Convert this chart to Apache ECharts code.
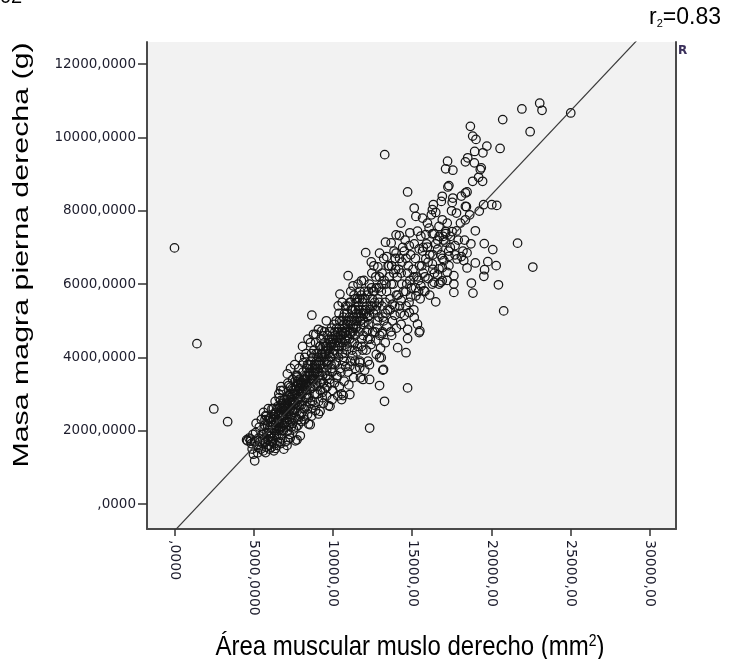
<!DOCTYPE html>
<html><head><meta charset="utf-8">
<script src="https://cdn.jsdelivr.net/npm/echarts@6/dist/echarts.min.js"></script>
<style>html,body{margin:0;padding:0;background:#fff}#c{width:741px;height:659px}</style>
</head><body><div id="c"></div><script>
// ---- tick values / labels ----
const xTickValues = [0, 5000, 10000, 15000, 20000, 25000, 30000];
const xTickLabels = [',0000', '5000,0000', '10000,0000', '15000,0000', '20000,0000', '25000,0000', '30000,0000'];
const yTickValues = [0, 2000, 4000, 6000, 8000, 10000, 12000];
const yTickLabels = [',0000', '2000,0000', '4000,0000', '6000,0000', '8000,0000', '10000,0000', '12000,0000'];

// ---- texts ----
const xTitle = 'Área muscular muslo derecho (mm';
const yTitle = 'Masa magra pierna derecha (g)';
const fitText = '0.83';

// ---- linear fit ----
const fitSlope = 0.4586;
const fitIntercept = -732;

// ---- data: [área muscular muslo (mm2), masa magra pierna (g)] ----
const pointsOutliers = [
 [0,6987],[1417,4376],[2480,2594],[3354,2247],[13263,9530],[12313,2074],[13250,2803],[14706,3169],
 [21644,7116],[22606,6466],[20769,5269],[20438,5981],[16481,5515]
];
const pointsLow = [
 [4550,1750],[4700,1800],[4850,1650],[4950,1900],[4980,1360],[5060,1180],[4800,1720],[4900,1500],[4604,1726],[4813,1773],
 [5120,1950],[5200,1600],[5300,1800],[5350,2100],[5450,1500],[5250,1400],[5400,1700],[5150,2200],[5480,2300],[5050,1700],
 [5550,1650],[5600,1900],[5700,2150],[5750,1406],[5800,2400],[5850,2270],[5900,1750],[5950,2000],[5620,2500],[5780,1550],[5680,1800],[5920,2600],[5980,1600],
 [5520,1900],[5660,2050],[5740,1700],[5830,1950],[5880,2150],[5960,1850],[5570,1750],[5710,2300],[5750,2411],[5958,2320],
 [6050,1850],[6100,2250],[6150,2600],[6200,1700],[6271,1452],[6300,2000],[6350,2800],[6400,2350],[6450,1900],[6120,1550],[6230,2450],[6380,2150],[6480,2650],[6020,2100],[6330,1650],
 [6060,2350],[6140,1950],[6180,2150],[6260,2300],[6310,1850],[6370,2450],[6420,2050],[6460,2250],[6090,1700],[6240,2600],[6375,1518],
 [6550,2000],[6583,3006],[6600,2900],[6646,2639],[6688,2822],[6700,1800],[6750,2450],[6800,2200],[6850,3100],[6896,1498],[6950,2700],[6520,2300],[6620,1700],[6780,2000],[6880,2550],[6980,2350],[6720,3200],[6688,3096],[6792,2731],
 [6530,2600],[6590,2200],[6640,2400],[6710,2100],[6760,2750],[6820,2400],[6870,2000],[6920,2850],[6960,2200],[6570,2450],[6800,2600],[6660,2050],
 [7050,2100],[7100,2850],[7150,3300],[7208,3233],[7250,1900],[7300,2600],[7350,3000],[7400,2350],[7450,3400],[7080,2450],[7180,1750],[7280,2800],[7380,2100],[7480,2700],[7120,3550],[7420,3150],[7320,3700],[7313,3187],
 [7020,2600],[7090,2250],[7140,2700],[7210,2450],[7260,3000],[7330,2400],[7370,2750],[7430,2550],[7470,3000],[7160,2950],[7230,2150],[7400,2850],
 [7550,2500],[7600,3100],[7625,1726],[7700,3500],[7729,3461],[7750,2900],[7800,2300],[7850,3700],[7900,2700],[7938,1863],[7950,3250],[7580,3800],[7680,2100],[7820,3300],[7880,4000],[7980,2450],[7650,2750],[7731,3507],[7731,1754],
 [7520,2800],[7570,3000],[7630,2600],[7690,3200],[7740,2700],[7790,3100],[7830,2850],[7870,3400],[7920,3000],[7970,3300],[7610,3350],[7760,3350],
 [5300,1550],[5600,1450],[6000,1500],[6450,1600],[6700,1650],[7000,1700],[7300,1800],[6150,1800],[6600,1900],[7150,2000],[7500,2050],[7800,2150],[8000,2250],[7100,1600],
 [6900,2150],[7250,2300],[7600,2350],[7900,2400],[7450,2200],[6600,2250],
 [6700,2500],[6900,2650],[7100,2750],[7300,2900],[7500,3100],[7700,3000],[7900,3150],[7600,2750],[7800,2900],[7000,2550],[7200,2650],[7400,2450],[6800,2350],[6600,2100],[6400,2500]
];
const pointsMid = [
 [8050,3000],[8100,3600],[8144,3855],[8200,2600],[8250,3300],[8300,4100],[8350,2900],[8400,3500],[8458,2184],[8480,3800],[8080,4300],[8150,2400],[8280,3100],[8420,4500],[8330,3700],[8220,4000],[8563,2165],
 [8020,3300],[8070,2800],[8130,3100],[8180,3400],[8240,2900],[8290,3500],[8340,3200],[8390,3800],[8440,3300],[8490,3600],[8110,3400],[8360,3000],
 [8550,3200],[8600,3900],[8667,5151],[8700,2800],[8769,4631],[8750,3600],[8800,4200],[8850,3000],[8919,4631],[8950,3800],[8580,4400],[8680,3400],[8900,4400],[8980,3300],[8620,2600],
 [8520,3500],[8570,3800],[8630,3300],[8680,3700],[8730,4000],[8780,3400],[8830,3800],[8880,3600],[8930,4100],[8970,3900],[8650,4100],[8810,3200],
 [9083,2458],[9081,4768],[9188,4302],[9100,3500],[9150,3900],[9200,3100],[9250,4500],[9300,3700],[9294,4721],[9350,4100],[9394,4585],[9400,3300],[9450,3900],[9050,4100],[9480,4700],[9320,2900],[9188,2529],
 [9020,3700],[9070,4000],[9120,3600],[9170,4300],[9220,3800],[9270,4100],[9330,3500],[9380,4300],[9430,4000],[9470,4400],[9230,3400],
 [9500,4083],[9550,3500],[9600,4300],[9650,3800],[9708,2685],[9750,4500],[9800,3300],[9850,4000],[9900,4800],[9950,3600],[9580,5000],[9700,4100],[9880,4300],[9980,3100],[9620,3200],[9813,2666],
 [9520,4300],[9570,3900],[9630,4600],[9680,4200],[9730,3900],[9780,4700],[9830,4400],[9880,3800],[9930,4500],[9970,4100],
 [10050,4200],[10100,3800],[10150,4600],[10200,5000],[10250,3500],[10331,5407],[10300,4300],[10350,4000],[10400,4800],[10438,5727],[10450,3700],[10080,4900],[10220,4450],[10380,5200],[10480,4400],
 [10020,4500],[10070,4100],[10120,4700],[10180,4300],[10230,4800],[10280,4100],[10320,4700],[10370,4400],[10420,5000],[10470,4600],
 [10544,2850],[10542,3006],[10646,2959],[10550,4300],[10600,4700],[10650,5100],[10700,3900],[10750,4500],[10800,5400],[10850,4200],[10900,4900],[10956,6229],[10950,3600],[10580,5500],[10720,4800],[10880,5200],
 [10520,4700],[10570,5000],[10620,4400],[10680,4900],[10730,5200],[10780,4700],[10830,5000],[10870,4600],[10930,5400],[10980,5000],
 [11063,5499],[11063,3762],[11050,4500],[11100,4900],[11150,5300],[11200,4200],[11269,5954],[11250,4700],[11300,5100],[11350,4400],[11400,5600],[11450,4800],[11120,5800],[11380,3900],[11480,5200],[11063,2987],
 [11030,5100],[11080,4700],[11130,5500],[11180,5000],[11230,5300],[11280,4800],[11330,5700],[11370,5000],[11420,5300],[11470,5500],
 [11500,5000],[11550,4300],[11600,5400],[11688,3855],[11688,3718],[11650,4700],[11700,5800],[11750,5200],[11794,6091],[11800,4500],[11850,5500],[11900,4900],[11950,6100],[11580,6000],[11880,4200],[11731,3444],[11894,3398],
 [11530,5600],[11580,5100],[11630,5300],[11680,5600],[11730,5000],[11780,5700],[11830,5300],[11880,5600],[11930,5200],[11980,5800],
 [8200,2300],[8400,2450],[8650,2400],[8900,2550],[8050,2500],
 [8000,2700],[8300,2650],[8550,2750],[8800,2700],[9100,2800],[9400,2750],[9600,2950],[9950,2850],[10300,2950],[8450,2900],[9000,3000],[9350,3050],
 [8300,3250],[8600,3150],[8900,3250],[9200,3300],[9500,3150],[9800,3400],[10100,3300],[10400,3200],[10700,3350],[11000,3250],[11300,3450],[9650,3500],[10250,3450],
 [9300,3600],[9600,3650],[9900,3700],[10200,3850],[10500,3600],[10800,3750],[11100,3900],[11400,3700],[11700,3900],[10650,4000],[11250,4050],
 [10600,4100],[10900,4300],[11200,4400],[11500,4150],[11800,4300],
 [11900,4600],
 [8100,3250],[8300,3400],[8500,3550],[8700,3500],[8900,3700],[9100,3850],[9300,4000],[9500,4150],[9700,4250],[9900,4350],[8000,3050],[8200,3150],[8400,3250],[8600,3400],[8800,3550],[9000,3600],
 [10100,4400],[10300,4550],[10500,4500],[10700,4650],[10900,4750],[11100,4650],[11300,4900],[11500,4850],[11700,5100],[11900,5050],[10800,4450],[11400,4600]
];
const pointsHigh = [
 [12063,6858],[12206,3899],[12419,6604],[12313,3398],[12050,5300],[12100,4700],[12150,5700],[12200,5100],[12300,6000],[12350,4500],[12400,5400],[12450,6300],[12250,4900],
 [12030,5600],[12130,5400],[12230,5800],[12330,5300],[12430,5900],[12480,5600],
 [12731,4083],[12938,3233],[12831,6467],[12938,6842],[12938,3992],[12550,5200],[12600,5800],[12650,4700],[12700,6200],[12750,5400],[12800,5000],[12900,5900],[12950,4600],[12580,6500],
 [12530,5800],[12630,5500],[12730,5900],[12830,5600],[12930,6200],
 [13044,3992],[13188,3672],[13144,3653],[13313,7143],[13394,6749],[13050,5800],[13100,6300],[13150,5100],[13200,6700],[13300,5500],[13350,6000],[13450,5300],[13480,6500],[13120,4700],
 [13080,6000],[13230,6100],[13380,5800],[13530,6500],[13680,6000],[13830,6300],[13930,6700],
 [13669,7124],[13979,7343],[13981,6842],[13550,6200],[13600,5600],[13700,6500],[13750,5000],[13800,6000],[13850,6900],[13900,5400],[13950,6400],[13650,4700],
 [14081,4266],[14188,7324],[14292,7663],[14050,6200],[14100,5700],[14200,6700],[14250,5200],[14300,6300],[14400,7000],[14450,5800],[14350,6600],
 [14150,6400],[14350,6000],[14500,6900],[14700,6300],[14850,6100],
 [14606,6704],[14606,5406],[14606,4129],[14706,4768],[14706,4513],[14708,8513],[14813,7050],[14813,5225],[14550,7200],[14650,6000],[14750,6500],[14900,6800],[14950,5900],[14850,7400],
 [15125,7097],[15125,8075],[15125,5088],[15229,7846],[15231,5680],[15333,7442],[15331,4905],[15438,6960],[15481,4721],[15438,4677],[15050,6400],[15300,6200],[15400,5800],
 [15200,6700],[15450,6500],[15650,6900],[15900,7100],
 [15544,7305],[15544,5954],[15750,5817],[15856,7352],[15856,6686],[15956,7006],[15958,7663],[15600,6500],[15700,7000],[15800,6200],[15650,7800],
 [16063,7526],[16271,7371],[16271,8028],[16208,7891],[16333,8165],[16375,7379],[16481,7954],[16481,7097],[16269,6549],[16269,6001],[16100,6800],[16400,6300],[16375,6047],
 [16688,6412],[16688,6001],[16688,7571],[16896,7754],[16894,6091],[16896,8395],[16833,8256],[16600,7200],[16800,6800],[16950,7300],[16794,6047],
 [17000,6640],[17106,7379],[17106,7143],[17104,9143],[17229,9352],[17208,7663],[17206,6321],[17250,8650],[17313,8686],[17400,7000],[17480,8000],[17104,7434],
 [17313,6758],[17313,6503],[17625,6229],[17625,6001],[17625,5773],[17831,6686],[18250,6640],
 [17521,7434],[17521,8228],[17563,8348],[17563,9105],[17792,7937],[18042,7663],[18354,7754],[18354,8119],[18418,8111],[18458,8513],[18354,8486],[18354,9334],[18500,9444],[18625,7891],[17700,6800],[17900,7200],[18100,8400],[18200,6900],
 [18456,6850],[18981,6576],[18456,6439],[18731,6028],[18831,5754],[18981,7453],
 [18667,10302],[18813,10037],[19021,9946],[18938,9617],[18917,9307],[19458,9581],[19708,9763],[19354,9170],[19292,9124],[19188,8914],[19438,8804],[18813,8804],
 [19500,8165],[20019,8165],[20331,8146],[19229,7991],[20542,9700],[20708,10486],[21917,10777],[22438,10157],[23042,10933],[23188,10741],[25000,10667],
 [20081,6940],[19544,7105],[20294,6503],[19769,6612],[19563,6393],[19519,6212],
 [12000,3650],[12300,3800],[12100,4200],[12400,4350],[12700,4450],[13000,4250],[13300,4400],[12200,4500],
 [12200,4750],[12500,4700],[12800,4800],[13100,4650],[13400,4850],[13700,4600],[14000,4800],[14300,4900],[13200,5000],
 [12900,5100],[13300,5200],[13600,5300],[13900,5150],[14200,5400],[14500,5150],[14800,5500],[15100,5300],[13750,5450],
 [14000,5700],[14300,5550],[14600,5800],[14900,5650],[15200,5900],[15500,5600],[15800,5800],[16100,5700],
 [15100,6200],[15400,6100],[15700,6300],[16000,6150],[16300,6400],[16600,6250],[16900,6450],[17200,6100],
 [16000,6600],[16300,6800],[16600,6950],[16900,6700],[17300,6900],[17700,7050],[18100,6750],
 [17000,7200],[17400,7300],[17800,7450],[18300,7200],[18700,7100],[16700,7300],
 [12100,5200],[12300,5150],[12500,5400],[12700,5300],[12900,5500],[13100,5400],[12000,4950]
];

const allPoints = pointsOutliers.concat(pointsLow, pointsMid, pointsHigh);
const xMin = -1734, xMax = 31640, yMin = -680, yMax = 12603;
const fitLine = [[xMin, fitSlope * xMin + fitIntercept], [xMax, fitSlope * xMax + fitIntercept]];

const chart = echarts.init(document.getElementById('c'), null, {renderer: 'canvas'});
const fmtX = v => { const i = xTickValues.indexOf(v); return i >= 0 ? xTickLabels[i] : ''; };
const fmtY = v => { const i = yTickValues.indexOf(v); return i >= 0 ? yTickLabels[i] : ''; };

chart.setOption({
  animation: false,
  backgroundColor: '#ffffff',
  grid: {left: 147, top: 42, right: 65, bottom: 130, show: true, backgroundColor: '#f2f2f2', borderWidth: 0},
  xAxis: {
    type: 'value', min: xMin, max: xMax,
    axisLine: {onZero: false, lineStyle: {color: '#4a4a4a', width: 2}},
    axisTick: {customValues: xTickValues, length: 7, lineStyle: {color: '#333', width: 1.5}},
    axisLabel: {customValues: xTickValues, formatter: fmtX, rotate: -90, margin: 11,
      fontFamily: 'DejaVu Sans', fontSize: 14, color: '#1c1c2c', width: 77, overflow: 'truncate', ellipsis: ''},
    splitLine: {show: false}
  },
  yAxis: [{
    type: 'value', min: yMin, max: yMax,
    axisLine: {onZero: false, lineStyle: {color: '#4a4a4a', width: 2}},
    axisTick: {customValues: yTickValues, length: 9, lineStyle: {color: '#333', width: 1.5}},
    axisLabel: {customValues: yTickValues, formatter: fmtY, margin: 11,
      fontFamily: 'DejaVu Sans', fontSize: 13.5, color: '#1c1c2c'},
    splitLine: {show: false}
  }, {
    type: 'value', min: yMin, max: yMax, position: 'right',
    axisLine: {show: true, onZero: false, lineStyle: {color: '#4a4a4a', width: 2}},
    axisTick: {show: false}, axisLabel: {show: false}, splitLine: {show: false}
  }],
  series: [{
    type: 'scatter', data: allPoints, symbol: 'circle', symbolSize: 8.5,
    itemStyle: {color: 'rgba(0,0,0,0)', borderColor: '#151515', borderWidth: 1.25, opacity: 1},
    emphasis: {disabled: true}, z: 3
  }, {
    type: 'line', data: fitLine, showSymbol: false, clip: true,
    lineStyle: {color: '#3a3a3a', width: 1.2}, z: 4, silent: true
  }],
  graphic: [
    {type: 'text', left: 0, top: -13, style: {text: '02', font: '20px "Liberation Sans"', fill: '#000'}},
    {type: 'text', x: 649, y: 5, style: {text: '{a|r}{s|2}{a|=' + fitText + '}',
      rich: {a: {fontSize: 23, lineHeight: 24, fontFamily: 'Liberation Sans', fill: '#000', verticalAlign: 'bottom'},
             s: {fontSize: 11, lineHeight: 16, fontFamily: 'Liberation Sans', fill: '#000', verticalAlign: 'bottom'}}}},
    {type: 'text', x: 678, y: 45, style: {text: 'R', font: 'bold 12px "DejaVu Sans"', fill: '#3a2f5a'}},
    {type: 'text', x: 22, y: 255, rotation: Math.PI / 2, scaleX: 1.38,
      style: {text: yTitle, font: '22px "Liberation Sans"', fill: '#000', align: 'center', verticalAlign: 'middle'}},
    {type: 'text', x: 410, y: 648, scaleY: 1.12,
      style: {text: '{a|' + xTitle + '}{s|2}{a|)}', align: 'center', verticalAlign: 'middle',
        rich: {a: {fontSize: 24, fontFamily: 'Liberation Sans', fill: '#000', lineHeight: 26, verticalAlign: 'middle'},
               s: {fontSize: 14, fontFamily: 'Liberation Sans', fill: '#000', lineHeight: 14, verticalAlign: 'top'}}}}
  ]
});
</script></body></html>
